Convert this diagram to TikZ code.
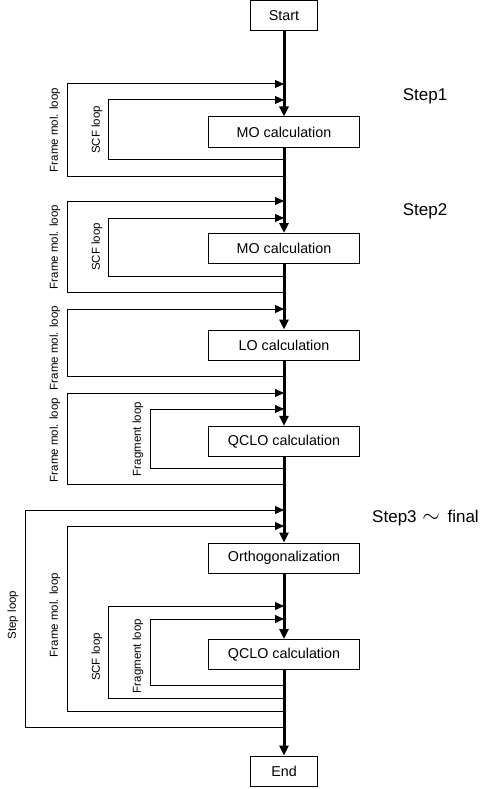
\documentclass[tikz,border=0pt]{standalone}
\usepackage{fontspec}
\setmainfont{Liberation Sans}
\usetikzlibrary{arrows.meta}
\newcommand\mkloop[4]{%
  \coordinate (#1out) at (284,#3);
  \coordinate (#1in) at (284,#4);
  \coordinate (#1l) at (#2,#3);
  \draw[loopline] (#1out) -- (#1l) |- (#1in);}
\begin{document}
\begin{tikzpicture}[x=1pt,y=-1pt,
  box/.style={draw, line width=1pt, minimum width=151pt, minimum height=30pt, inner sep=0pt, fill=white, font=\fontsize{14.3}{16}\selectfont},
  sbox/.style={box, minimum width=67pt},
  mainline/.style={line width=3pt, -{Triangle[length=10pt,width=9pt]}},
  loopline/.style={line width=1pt, -{Triangle[length=9pt,width=8pt]}},
  lbl/.style={rotate=90, inner sep=0pt, font=\fontsize{11.5}{13}\selectfont},
  steplbl/.style={inner sep=0pt, font=\fontsize{17}{20}\selectfont}]
\useasboundingbox (0,0) rectangle (495,789);
% boxes
\node[sbox] (start) at (284,15.5) {Start};
\node[box] (mo1) at (284,132) {MO calculation};
\node[box] (mo2) at (284,248.5) {MO calculation};
\node[box] (lo) at (284,345) {LO calculation};
\node[box] (qclo1) at (284,441.3) {QCLO calculation};
\node[box] (orth) at (284,558) {Orthogonalization};
\node[box] (qclo2) at (284,654.5) {QCLO calculation};
\node[sbox] (end) at (284,771) {End};
% main line
\draw[mainline] (start.south) -- (mo1.north);
\draw[mainline] (mo1.south) -- (mo2.north);
\draw[mainline] (mo2.south) -- (lo.north);
\draw[mainline] (lo.south) -- (qclo1.north);
\draw[mainline] (qclo1.south) -- (orth.north);
\draw[mainline] (orth.south) -- (qclo2.north);
\draw[mainline] (qclo2.south) -- (end.north);
% loops
\mkloop{fa}{67}{176}{84}
\mkloop{sa}{108}{159}{100}
\mkloop{fb}{67}{292}{201}
\mkloop{sb}{108}{276}{218}
\mkloop{fc}{67}{376}{309}
\mkloop{fd}{67}{484}{393}
\mkloop{gd}{150}{468}{409}
\mkloop{pe}{25}{727}{510}
\mkloop{fe}{67}{711}{526}
\mkloop{se}{108}{698}{606}
\mkloop{ge}{150}{685}{619}
% loop labels
\node[lbl] (lfa) at (55,130) {Frame mol. loop};
\node[lbl] (lsa) at (97,130) {SCF loop};
\node[lbl] (lfb) at (55,247) {Frame mol. loop};
\node[lbl] (lsb) at (97,247) {SCF loop};
\node[lbl] (lfc) at (55,348) {Frame mol. loop};
\node[lbl] (lfd) at (55,440) {Frame mol. loop};
\node[lbl] (lgd) at (138,439) {Fragment loop};
\node[lbl] (lpe) at (13,615) {Step loop};
\node[lbl] (lfe) at (55,615) {Frame mol. loop};
\node[lbl] (lse) at (97,657) {SCF loop};
\node[lbl] (lge) at (138,656) {Fragment loop};
% step labels
\node[steplbl] (st1) at (425,96) {Step1};
\node[steplbl] (st2) at (425,211) {Step2};
\node[steplbl] (st3) at (425.5,518) {Step3\hspace{1pt} \scalebox{1.3}{$\sim$}\hspace{3pt} final};
\end{tikzpicture}
\end{document}
